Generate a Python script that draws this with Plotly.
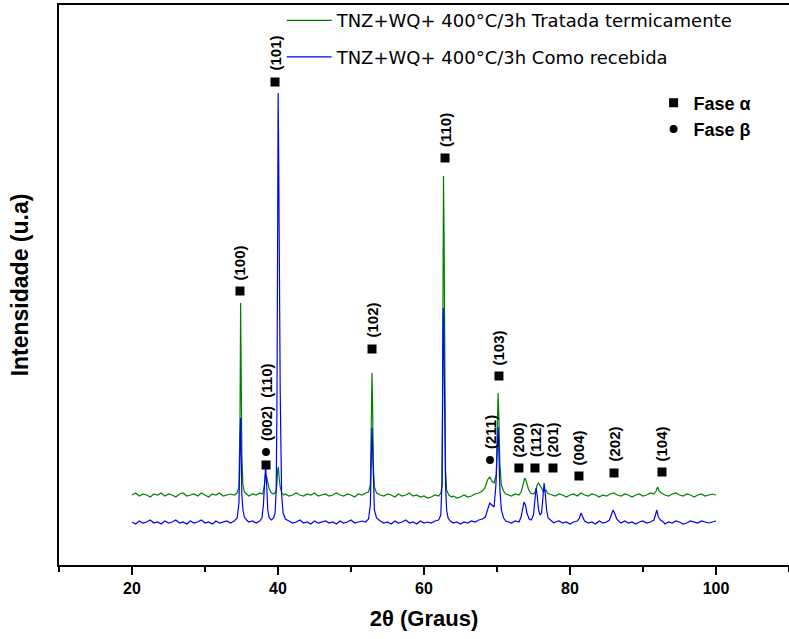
import plotly.graph_objects as go

# ---- data (2theta in degrees, intensity in arbitrary units) ----
tratada_pts = [
    (20.0, 70), (20.5, 72), (21.0, 69), (21.5, 71), (22.0, 70), (22.5, 68), (23.0, 71), (23.5, 70),
    (24.0, 72), (24.5, 69), (25.0, 71), (25.5, 70), (26.0, 68), (26.5, 71), (27.0, 72), (27.5, 69),
    (28.0, 70), (28.5, 71), (29.0, 69), (29.5, 72), (30.0, 70), (30.5, 68), (31.0, 71), (31.5, 70),
    (32.0, 72), (32.5, 69), (33.0, 70), (33.5, 71), (34.0, 70), (34.4, 72), (34.65, 78), (34.8, 150),
    (34.88, 262), (34.96, 200), (35.05, 110), (35.2, 80), (35.4, 73), (35.7, 71), (36.0, 69), (36.5, 71),
    (37.0, 70), (37.5, 72), (37.9, 71), (38.1, 78), (38.3, 90), (38.45, 88), (38.6, 83), (38.8, 76),
    (39.1, 72), (39.4, 71), (39.7, 73), (39.85, 80), (39.95, 95), (40.05, 98), (40.15, 88), (40.3, 78),
    (40.5, 72), (40.8, 70), (41.0, 71), (41.5, 69), (42.0, 70), (42.5, 72), (43.0, 70), (43.5, 69),
    (44.0, 71), (44.5, 70), (45.0, 72), (45.5, 69), (46.0, 70), (46.5, 71), (47.0, 69), (47.5, 70),
    (48.0, 72), (48.5, 70), (49.0, 69), (49.5, 71), (50.0, 70), (50.5, 68), (51.0, 71), (51.5, 70),
    (52.0, 72), (52.4, 73), (52.65, 80), (52.8, 150), (52.88, 192), (52.96, 160), (53.05, 100), (53.2, 78),
    (53.5, 72), (54.0, 70), (54.5, 69), (55.0, 71), (55.5, 70), (56.0, 68), (56.5, 71), (57.0, 69),
    (57.5, 70), (58.0, 72), (58.5, 69), (59.0, 70), (59.5, 68), (60.0, 69), (60.5, 67), (61.0, 68),
    (61.5, 70), (62.0, 69), (62.3, 72), (62.5, 80), (62.6, 200), (62.67, 389), (62.75, 330), (62.85, 170),
    (62.95, 95), (63.1, 75), (63.4, 70), (63.8, 68), (64.0, 69), (64.5, 67), (65.0, 68), (65.5, 70),
    (66.0, 68), (66.5, 69), (67.0, 71), (67.5, 72), (68.0, 74), (68.4, 78), (68.7, 85), (69.0, 88),
    (69.3, 84), (69.6, 82), (69.9, 90), (70.05, 140), (70.15, 172), (70.25, 150), (70.4, 100), (70.6, 80),
    (70.9, 74), (71.2, 71), (71.5, 70), (72.0, 69), (72.5, 71), (73.0, 70), (73.3, 73), (73.6, 82),
    (73.8, 87), (74.0, 84), (74.3, 76), (74.6, 72), (75.0, 71), (75.3, 74), (75.5, 80), (75.7, 82),
    (75.9, 79), (76.1, 76), (76.4, 73), (76.7, 75), (76.9, 72), (77.2, 71), (77.5, 70), (78.0, 69),
    (78.5, 71), (79.0, 70), (79.5, 68), (80.0, 70), (80.5, 71), (81.0, 69), (81.5, 72), (82.0, 70),
    (82.5, 69), (83.0, 71), (83.5, 70), (84.0, 68), (84.5, 70), (85.0, 69), (85.5, 71), (86.0, 72),
    (86.5, 70), (87.0, 69), (87.5, 71), (88.0, 70), (88.5, 68), (89.0, 70), (89.5, 71), (90.0, 69),
    (90.5, 70), (91.0, 72), (91.5, 71), (91.8, 74), (92.0, 78), (92.2, 74), (92.5, 72), (93.0, 70),
    (93.5, 69), (94.0, 71), (94.5, 72), (95.0, 70), (95.5, 69), (96.0, 71), (96.5, 70), (97.0, 68),
    (97.5, 70), (98.0, 71), (98.5, 69), (99.0, 70), (99.5, 71), (100.0, 70),
]

recebida_pts = [
    (20.0, 43), (20.5, 41), (21.0, 44), (21.5, 42), (22.0, 43), (22.5, 45), (23.0, 42), (23.5, 43),
    (24.0, 41), (24.5, 44), (25.0, 42), (25.5, 43), (26.0, 45), (26.5, 42), (27.0, 43), (27.5, 41),
    (28.0, 44), (28.5, 42), (29.0, 43), (29.5, 45), (30.0, 42), (30.5, 43), (31.0, 41), (31.5, 44),
    (32.0, 42), (32.5, 43), (33.0, 44), (33.5, 42), (34.0, 44), (34.4, 47), (34.65, 62), (34.8, 120),
    (34.88, 147), (34.96, 110), (35.05, 70), (35.2, 55), (35.4, 48), (35.7, 45), (36.0, 43), (36.5, 44),
    (37.0, 42), (37.5, 44), (37.8, 47), (38.0, 60), (38.2, 92), (38.3, 99), (38.45, 80), (38.6, 55),
    (38.8, 47), (39.1, 45), (39.4, 47), (39.6, 52), (39.75, 75), (39.85, 150), (39.95, 330), (40.02, 472),
    (40.1, 400), (40.2, 250), (40.3, 175), (40.4, 120), (40.5, 70), (40.7, 52), (41.0, 46), (41.5, 44),
    (42.0, 42), (42.5, 43), (43.0, 45), (43.5, 42), (44.0, 43), (44.5, 41), (45.0, 44), (45.5, 42),
    (46.0, 43), (46.5, 44), (47.0, 42), (47.5, 43), (48.0, 41), (48.5, 44), (49.0, 42), (49.5, 43),
    (50.0, 45), (50.5, 42), (51.0, 43), (51.5, 44), (52.0, 43), (52.4, 46), (52.65, 60), (52.8, 110),
    (52.88, 137), (52.96, 120), (53.05, 80), (53.2, 55), (53.5, 47), (54.0, 44), (54.5, 42), (55.0, 43),
    (55.5, 41), (56.0, 44), (56.5, 42), (57.0, 43), (57.5, 45), (58.0, 42), (58.5, 43), (59.0, 41),
    (59.5, 44), (60.0, 42), (60.5, 43), (61.0, 42), (61.5, 44), (62.0, 45), (62.3, 50), (62.45, 80),
    (62.55, 170), (62.63, 257), (62.72, 230), (62.82, 140), (62.95, 80), (63.1, 55), (63.3, 47), (63.6, 44),
    (64.0, 42), (64.5, 43), (65.0, 41), (65.5, 43), (66.0, 42), (66.5, 44), (67.0, 43), (67.5, 45),
    (68.0, 46), (68.4, 48), (68.7, 55), (69.0, 62), (69.3, 60), (69.6, 58), (69.85, 80), (70.05, 120),
    (70.15, 138), (70.25, 115), (70.4, 75), (70.6, 55), (70.9, 47), (71.2, 44), (71.5, 43), (72.0, 42),
    (72.5, 44), (73.0, 43), (73.3, 48), (73.5, 56), (73.7, 63), (73.9, 60), (74.1, 52), (74.4, 46),
    (74.7, 45), (75.0, 50), (75.2, 65), (75.35, 77), (75.5, 70), (75.7, 55), (75.9, 50), (76.1, 52),
    (76.3, 68), (76.45, 82), (76.6, 72), (76.8, 55), (77.0, 47), (77.4, 44), (77.8, 42), (78.0, 43),
    (78.5, 44), (79.0, 42), (79.5, 43), (80.0, 41), (80.5, 43), (81.0, 44), (81.3, 47), (81.5, 52),
    (81.7, 48), (82.0, 44), (82.5, 42), (83.0, 43), (83.5, 41), (84.0, 44), (84.5, 42), (85.0, 43),
    (85.4, 45), (85.7, 50), (85.9, 55), (86.1, 52), (86.4, 46), (86.8, 43), (87.0, 42), (87.5, 44),
    (88.0, 42), (88.5, 43), (89.0, 41), (89.5, 43), (90.0, 44), (90.5, 42), (91.0, 43), (91.5, 45),
    (91.75, 50), (91.9, 55), (92.1, 48), (92.4, 45), (92.8, 43), (93.0, 41), (93.5, 43), (94.0, 42),
    (94.5, 44), (95.0, 43), (95.5, 41), (96.0, 42), (96.5, 44), (97.0, 43), (97.5, 42), (98.0, 44),
    (98.5, 43), (99.0, 42), (99.5, 43), (100.0, 44),
]

# phase markers
alpha_x = [34.79, 39.59, 38.36, 52.88, 62.88, 70.27, 73.0, 75.2, 77.67, 81.23, 86.03, 92.6]
alpha_y = [274, 483, 100, 216, 407, 189, 97, 97, 97, 89, 92, 93]
beta_x = [38.36, 69.04]
beta_y = [113, 105]

# reflection labels
label_text = ["(100)", "(101)", "(002)  (110)", "(102)", "(110)", "(211)", "(103)",
              "(200)", "(112)", "(201)", "(004)", "(202)", "(104)"]
label_x = [34.79, 39.59, 38.36, 52.88, 62.88, 69.04, 70.27, 73.0, 75.2, 77.67, 81.23, 86.03, 92.6]
label_y = [283, 492, 122, 225, 416, 114, 198, 106, 106, 106, 98, 101, 102]

name_tratada = "TNZ+WQ+ 400°C/3h Tratada termicamente"
name_recebida = "TNZ+WQ+ 400°C/3h Como recebida"

FONT = "Arial, Liberation Sans, sans-serif"
LEGFONT = "DejaVu Sans, Arial, sans-serif"

fig = go.Figure()
fig.add_trace(go.Scatter(
    x=[p[0] for p in tratada_pts], y=[p[1] for p in tratada_pts],
    mode="lines", line=dict(color="#008000", width=1.2),
    name=name_tratada, legendgroup="g1", legend="legend",
))
fig.add_trace(go.Scatter(
    x=[p[0] for p in recebida_pts], y=[p[1] for p in recebida_pts],
    mode="lines", line=dict(color="#0000ff", width=1.2),
    name=name_recebida, legendgroup="g2", legend="legend",
))
fig.add_trace(go.Scatter(
    x=alpha_x, y=alpha_y, mode="markers",
    marker=dict(symbol="square", size=9, color="black"),
    name="Fase α", legend="legend2",
))
fig.add_trace(go.Scatter(
    x=beta_x, y=beta_y, mode="markers",
    marker=dict(symbol="circle", size=8, color="black"),
    name="Fase β", legend="legend2",
))

for t, xv, yv in zip(label_text, label_x, label_y):
    fig.add_annotation(
        x=xv, y=yv, xref="x", yref="y", text=t, showarrow=False,
        textangle=-90, xanchor="center", yanchor="bottom",
        font=dict(family=FONT, size=15, color="black", weight="bold"),
    )

fig.update_layout(
    width=789, height=639,
    margin=dict(l=59, r=0, t=5, b=74),
    plot_bgcolor="white", paper_bgcolor="white",
    font=dict(family=FONT, color="black"),
    showlegend=True,
    legend=dict(
        x=0.305, y=1.005, xanchor="left", yanchor="top",
        bgcolor="rgba(0,0,0,0)", borderwidth=0,
        font=dict(family=LEGFONT, size=18, color="black"),
        traceorder="grouped", tracegroupgap=10, itemwidth=45,
    ),
    legend2=dict(
        x=0.8145, y=0.858, xanchor="left", yanchor="top",
        bgcolor="rgba(0,0,0,0)", borderwidth=0,
        font=dict(family=FONT, size=18, color="black", weight="bold"),
        itemwidth=30, tracegroupgap=0,
    ),
    xaxis=dict(
        range=[10, 110], showline=True, linecolor="black", linewidth=2, mirror=True,
        ticks="outside", ticklen=8, tickwidth=2, tickcolor="black",
        tick0=0, dtick=20, showgrid=False, zeroline=False,
        minor=dict(ticks="outside", ticklen=5, tickwidth=2, tickcolor="black", dtick=10, tick0=0, showgrid=False),
        tickfont=dict(family=FONT, size=16, color="black", weight="bold"),
        title=dict(text="2θ (Graus)", font=dict(family=FONT, size=22, color="black", weight="bold"), standoff=14),
    ),
    yaxis=dict(
        range=[0, 560], showline=True, linecolor="black", linewidth=2, mirror=False,
        ticks="", showticklabels=False, showgrid=False, zeroline=False,
        title=dict(text="Intensidade (u.a)", font=dict(family=FONT, size=23, color="black", weight="bold"), standoff=22),
    ),
)

fig.write_html("out.html")
